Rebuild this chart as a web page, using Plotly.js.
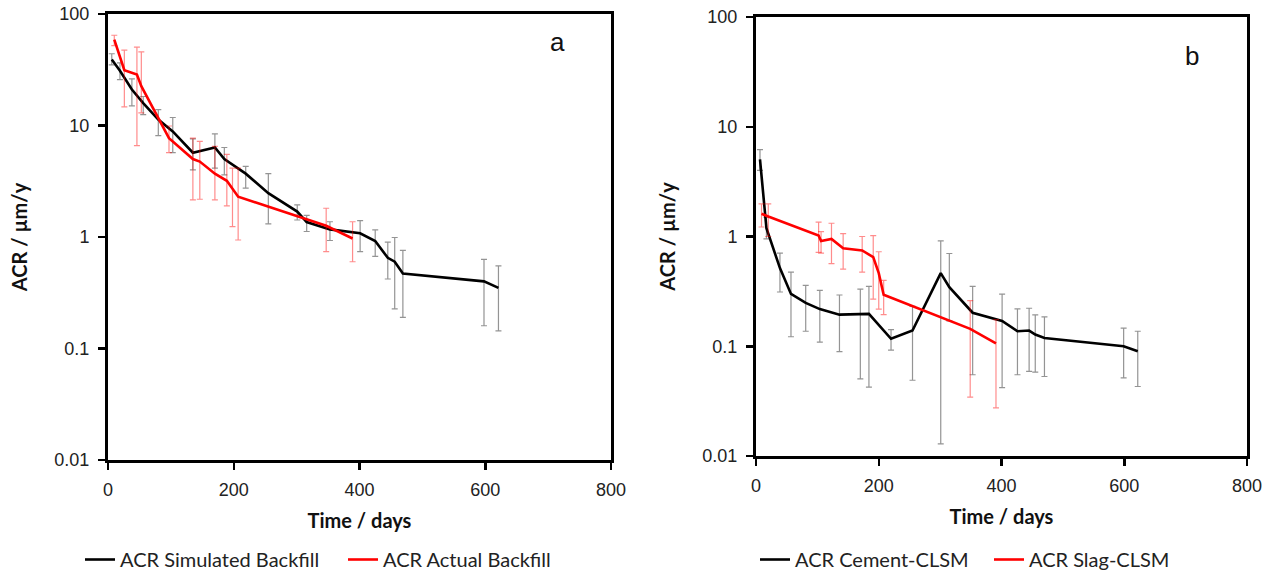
<!DOCTYPE html>
<html>
<head>
<meta charset="utf-8">
<script src="https://cdn.plot.ly/plotly-3.0.1.min.js"></script>
<style>html,body{margin:0;padding:0;background:#fff;overflow:hidden;}#chart{width:1276px;height:579px;}</style>
</head>
<body>
<div id="chart"></div>
<script>
// Panel a: ACR Simulated Backfill
const simDays = [6, 19, 38, 56, 80, 103, 135, 170, 185, 219, 255, 301, 316, 353, 401, 425, 445, 456, 469, 598, 621];
const simACR  = [39, 31, 21, 15.9, 11.3, 8.85, 5.7, 6.35, 5.0, 3.7, 2.47, 1.69, 1.36, 1.17, 1.08, 0.92, 0.65, 0.60, 0.47, 0.40, 0.35];
const simHi   = [44, 36.4, 26.2, 18.2, 13.9, 11.8, 7.6, 8.4, 6.35, 4.3, 3.7, 1.94, 1.56, 1.37, 1.40, 1.16, 0.90, 0.99, 0.76, 0.63, 0.55];
const simLo   = [35, 25.8, 15.0, 12.5, 8.1, 5.7, 4.0, 4.15, 3.6, 2.74, 1.31, 1.42, 1.12, 0.93, 0.74, 0.67, 0.42, 0.227, 0.19, 0.16, 0.144];

// Panel a: ACR Actual Backfill
const actDays = [10, 26, 46, 53, 97, 135, 146, 170, 189, 198, 207, 347, 389];
const actACR  = [59, 31.3, 28.6, 22.5, 7.7, 5.0, 4.75, 3.7, 3.19, 2.74, 2.3, 1.26, 0.97];
const actHi   = [64.5, 47.5, 50.4, 45.7, 9.9, 7.7, 7.2, 6.5, 5.5, 4.15, 4.15, 1.81, 1.37];
const actLo   = [52, 14.7, 6.6, 13, 5.7, 2.15, 2.18, 2.15, 1.9, 1.24, 0.94, 0.74, 0.60];

// Panel b: ACR Cement-CLSM
const cemDays = [6.5, 17, 39, 57, 81, 104, 136, 170, 184, 220, 255, 301, 315, 353, 401, 426, 445, 455, 470, 599, 622];
const cemACR  = [5.05, 1.19, 0.515, 0.30, 0.248, 0.218, 0.194, 0.194, 0.197, 0.117, 0.139, 0.464, 0.345, 0.202, 0.17, 0.137, 0.139, 0.128, 0.119, 0.10, 0.090];
const cemHi   = [6.2, 1.5, 0.705, 0.474, 0.359, 0.323, 0.293, 0.332, 0.351, 0.142, 0.231, 0.914, 0.70, 0.351, 0.299, 0.219, 0.222, 0.193, 0.185, 0.146, 0.137];
const cemLo   = [4.0, 0.95, 0.312, 0.122, 0.137, 0.109, 0.0895, 0.0505, 0.0424, 0.092, 0.049, 0.0129, 0.17, 0.055, 0.042, 0.055, 0.059, 0.058, 0.053, 0.0515, 0.043];

// Panel b: ACR Slag-CLSM
const slagDays = [9, 20, 102, 106, 123, 142, 173, 191, 200, 208, 349, 391];
const slagACR  = [1.61, 1.52, 1.02, 0.91, 0.95, 0.78, 0.746, 0.649, 0.464, 0.295, 0.144, 0.106];
const slagHi   = [1.98, 1.98, 1.35, 1.11, 1.32, 1.06, 1.0, 1.02, 0.726, 0.398, 0.26, 0.175];
const slagLo   = [1.22, 1.0, 0.716, 0.705, 0.565, 0.505, 0.474, 0.269, 0.218, 0.194, 0.0344, 0.0275];

const yTickVals = [0.01, 0.1, 1, 10, 100];
const yTickText = ['0.01', '0.1', '1', '10', '100'];
const xTickVals = [0, 200, 400, 600, 800];

function err(vals, hi, lo, color) {
  return {
    type: 'data', symmetric: false, visible: true,
    array: vals.map((v, i) => hi[i] - v),
    arrayminus: vals.map((v, i) => v - lo[i]),
    color: color, thickness: 1.2, width: 3
  };
}

function series(x, y, hi, lo, name, color, ecolor, xa, ya, leg) {
  return {
    type: 'scatter', mode: 'lines', x: x, y: y, name: name,
    line: {color: color, width: 2.6},
    error_y: err(y, hi, lo, ecolor),
    xaxis: xa, yaxis: ya, legend: leg
  };
}

const greyBar = 'rgba(60,60,60,0.55)';
const pinkBar = 'rgba(255,0,0,0.45)';

const data = [
  series(simDays, simACR, simHi, simLo, 'ACR Simulated Backfill', '#000000', greyBar, 'x', 'y', 'legend'),
  series(actDays, actACR, actHi, actLo, 'ACR Actual Backfill', '#ff0000', pinkBar, 'x', 'y', 'legend'),
  series(cemDays, cemACR, cemHi, cemLo, 'ACR Cement-CLSM', '#000000', greyBar, 'x2', 'y2', 'legend2'),
  series(slagDays, slagACR, slagHi, slagLo, 'ACR Slag-CLSM', '#ff0000', pinkBar, 'x2', 'y2', 'legend2')
];

const tickFont = {family: 'Liberation Sans, Arial, sans-serif', size: 18, color: '#222'};
const titleFont = {family: 'Lato, Open Sans, sans-serif', size: 20, color: '#111', weight: 'bold'};

function xAxis(domain, anchor) {
  return {
    domain: domain, anchor: anchor, range: [0, 800], tickvals: xTickVals,
    showline: true, linecolor: '#000', linewidth: 3, mirror: true,
    ticks: 'outside', ticklen: 7, tickwidth: 2.5, tickcolor: '#000', ticklabelstandoff: 4,
    showgrid: false, zeroline: false, tickfont: tickFont,
    title: {text: 'Time / days', font: titleFont, standoff: 16}
  };
}
function yAxis(domain, anchor) {
  return {
    domain: domain, anchor: anchor, type: 'log', range: [-2, 2],
    tickvals: yTickVals, ticktext: yTickText,
    showline: true, linecolor: '#000', linewidth: 3, mirror: true,
    ticks: 'outside', ticklen: 7, tickwidth: 2.5, tickcolor: '#000', ticklabelstandoff: 5,
    showgrid: false, zeroline: false, tickfont: tickFont,
    title: {text: 'ACR / µm/y', font: titleFont, standoff: 22}
  };
}

const legendFont = {family: 'Lato, Open Sans, sans-serif', size: 20, color: '#222'};

const layout = {
  width: 1276, height: 579,
  margin: {l: 0, r: 0, t: 0, b: 0},
  paper_bgcolor: '#ffffff', plot_bgcolor: '#ffffff',
  showlegend: true,
  xaxis: xAxis([108/1276, 611/1276], 'y'),
  yaxis: yAxis([1 - 460/579, 1 - 14/579], 'x'),
  xaxis2: xAxis([756/1276, 1247/1276], 'y2'),
  yaxis2: yAxis([1 - 456/579, 1 - 17/579], 'x2'),
  legend: {
    orientation: 'h', x: 80/1276, xanchor: 'left', y: 0, yanchor: 'bottom',
    font: legendFont, entrywidth: 218, entrywidthmode: 'pixels', bgcolor: 'rgba(0,0,0,0)'
  },
  legend2: {
    orientation: 'h', x: 755/1276, xanchor: 'left', y: 0, yanchor: 'bottom',
    font: legendFont, entrywidth: 189, entrywidthmode: 'pixels', bgcolor: 'rgba(0,0,0,0)'
  },
  annotations: [
    {text: 'a', xref: 'paper', yref: 'paper', x: 557/1276, y: 1 - 42/579, showarrow: false,
     xanchor: 'center', yanchor: 'middle',
     font: {family: 'Liberation Sans, Arial, sans-serif', size: 26, color: '#111'}},
    {text: 'b', xref: 'paper', yref: 'paper', x: 1192/1276, y: 1 - 56/579, showarrow: false,
     xanchor: 'center', yanchor: 'middle',
     font: {family: 'Liberation Sans, Arial, sans-serif', size: 26, color: '#111'}}
  ]
};

Plotly.newPlot('chart', data, layout, {displayModeBar: false, staticPlot: true});
</script>
</body>
</html>
